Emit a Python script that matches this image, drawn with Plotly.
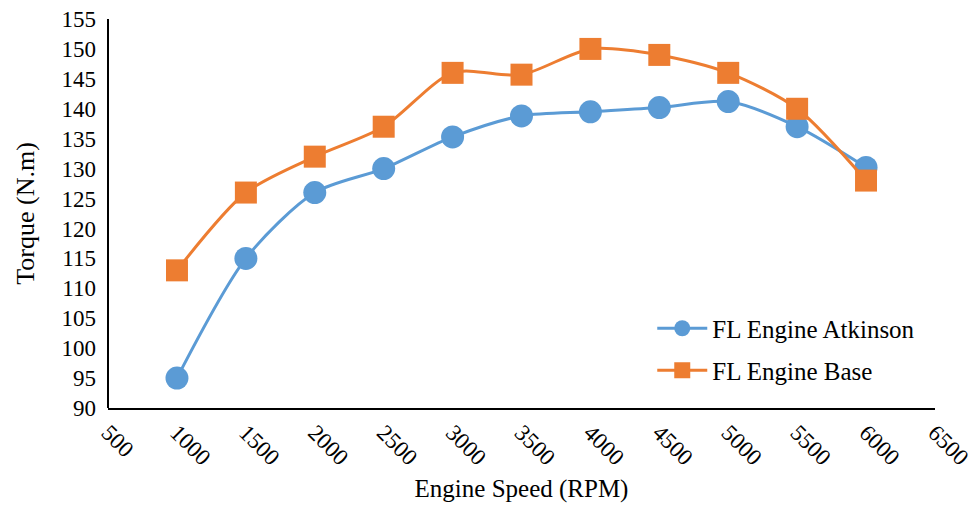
import plotly.graph_objects as go

rpm = [1000, 1500, 2000, 2500, 3000, 3500, 4000, 4500, 5000, 5500, 6000]
atkinson = [95, 115, 126, 130, 135.3, 138.8, 139.5, 140.2, 141.2, 137, 130.2]
base = [113, 126, 132, 137, 146, 145.7, 150, 149, 146, 140, 128]

FONT = "Liberation Serif"

fig = go.Figure()
fig.add_trace(go.Scatter(
    x=rpm, y=atkinson, name="FL Engine Atkinson", mode="lines+markers",
    line=dict(color="#5B9BD5", width=3, shape="spline", smoothing=0.8),
    marker=dict(symbol="circle", size=23, color="#5B9BD5"), legend="legend"))
fig.add_trace(go.Scatter(
    x=rpm, y=base, name="FL Engine Base", mode="lines+markers",
    line=dict(color="#ED7D31", width=3, shape="spline", smoothing=0.8),
    marker=dict(symbol="square", size=22, color="#ED7D31"), legend="legend2"))

legend_style = dict(xanchor="left", yanchor="top",
                    bgcolor="rgba(0,0,0,0)", font=dict(size=25), itemwidth=50)

fig.update_layout(
    width=972, height=513,
    margin=dict(l=96, r=37, t=19, b=105, autoexpand=False),
    paper_bgcolor="white", plot_bgcolor="white",
    font=dict(family=FONT, size=23, color="black"),
    legend=dict(x=0.663, y=0.2635, **legend_style),
    legend2=dict(x=0.663, y=0.1555, **legend_style),
    showlegend=True,
    shapes=[dict(type="line", xref="x domain", yref="y domain",
                 x0=0, x1=0, y0=0, y1=1, line=dict(color="black", width=2))],
)
fig.update_xaxes(
    domain=[12 / 839, 1],
    range=[499.5, 6500.5], tickvals=list(range(500, 7000, 500)), tickangle=45,
    showline=True, linecolor="black", linewidth=2, showgrid=False,
    zeroline=False, ticks="", tickfont=dict(size=23), automargin=False,
    ticklabeloverflow="allow",
    title=dict(text="Engine Speed (RPM)", font=dict(size=25), standoff=10))
fig.update_yaxes(
    anchor="free", position=0,
    range=[90, 155], tick0=90, dtick=5,
    showline=False, showgrid=False,
    zeroline=False, ticks="", tickfont=dict(size=23), automargin=False,
    title=dict(text="Torque (N.m)", font=dict(size=26), standoff=18))

fig.write_html("out.html")
